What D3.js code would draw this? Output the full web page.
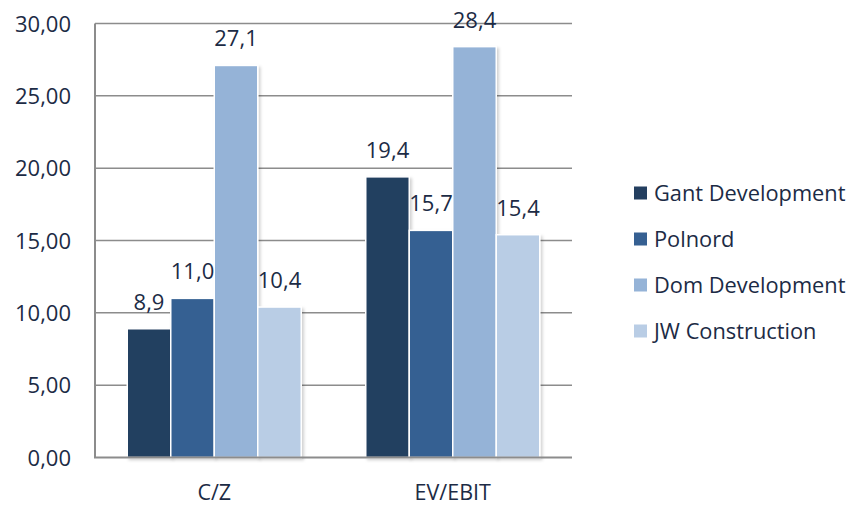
<!DOCTYPE html>
<html><head><meta charset="utf-8">
<script src="https://cdn.jsdelivr.net/npm/d3@7"></script>
<style>body{margin:0;background:#fff}svg{display:block}</style>
</head><body>
<svg id="c" width="850" height="508"></svg>
<script>
const categories = ["C/Z", "EV/EBIT"];
const seriesNames = ["Gant Development", "Polnord", "Dom Development", "JW Construction"];
const gant = [8.9, 19.4];
const polnord = [11.0, 15.7];
const dom = [27.1, 28.4];
const jw = [10.4, 15.4];
const yTicks = [0, 5, 10, 15, 20, 25, 30];
const colors = ["#243f60", "#366092", "#95b3d7", "#b9cde5"];
const seriesValues = [gant, polnord, dom, jw];

const svg = d3.select("#c");
const font = "'Open Sans', sans-serif";
const textColor = "#1c2b45";
const m = {left: 95, right: 572, top: 23.5, bottom: 457.5};

const defs = svg.append("defs");
const f = defs.append("filter").attr("id","sh").attr("x","-20%").attr("y","-20%").attr("width","150%").attr("height","150%");
f.append("feDropShadow").attr("dx",2).attr("dy",2).attr("stdDeviation",1.5).attr("flood-color","#000").attr("flood-opacity",0.18);

const y = d3.scaleLinear().domain([0, 30]).range([m.bottom, m.top]);
const x0 = d3.scaleBand().domain(categories).range([m.left, m.right]).paddingInner(0).paddingOuter(0);
const groupW = 174;
const x1 = d3.scaleBand().domain(seriesNames).range([0, groupW]).padding(0);

// gridlines
svg.append("g").selectAll("line").data(yTicks.filter(d => d > 0)).join("line")
  .attr("x1", m.left).attr("x2", m.right)
  .attr("y1", d => y(d)).attr("y2", d => y(d))
  .attr("stroke", "#8c8c8c").attr("stroke-width", 1.5);

// y tick labels
const yAxis = d3.axisLeft(y).tickValues(yTicks).tickSize(0).tickPadding(24)
  .tickFormat(d => d3.format(".2f")(d).replace(".", ","));
const ya = svg.append("g").attr("transform", `translate(${m.left},0)`).call(yAxis);
ya.select(".domain").remove();
ya.selectAll("text").attr("font-family", font).attr("font-size", 22).attr("fill", textColor).attr("dy", "0.35em");

// bars
const data = [];
categories.forEach((c, ci) => seriesNames.forEach((s, si) => data.push({c, s, si, v: seriesValues[si][ci]})));
const gx = c => x0(c) + (x0.bandwidth() - groupW) / 2;

svg.append("g").selectAll("rect").data(data).join("rect")
  .attr("x", d => gx(d.c) + x1(d.s))
  .attr("width", x1.bandwidth())
  .attr("y", d => y(d.v))
  .attr("height", d => y(0) - y(d.v))
  .attr("fill", d => colors[d.si])
  .attr("stroke", "#fff").attr("stroke-width", 1.5)
  .attr("filter", "url(#sh)");

// axes lines
svg.append("line").attr("x1", m.left).attr("x2", m.left).attr("y1", m.top).attr("y2", m.bottom)
  .attr("stroke", "#8c8c8c").attr("stroke-width", 2);
svg.append("line").attr("x1", m.left - 1).attr("x2", m.right).attr("y1", m.bottom).attr("y2", m.bottom)
  .attr("stroke", "#8c8c8c").attr("stroke-width", 2);

// value labels
svg.append("g").selectAll("text").data(data).join("text")
  .attr("x", d => gx(d.c) + x1(d.s) + x1.bandwidth() / 2)
  .attr("y", d => y(d.v) - 19)
  .attr("text-anchor", "middle")
  .attr("font-family", font).attr("font-size", 22).attr("fill", textColor)
  .text(d => d3.format(".1f")(d.v).replace(".", ","));

// x labels
const xAxis = d3.axisBottom(x0).tickSize(0).tickPadding(27);
const xa = svg.append("g").attr("transform", `translate(0,${m.bottom})`).call(xAxis);
xa.select(".domain").remove();
xa.selectAll("text").attr("font-family", font).attr("font-size", 21.5).attr("fill", textColor);

// legend
const lg = svg.append("g").selectAll("g").data(seriesNames).join("g")
  .attr("transform", (d, i) => `translate(634,${193 + i * 46})`);
lg.append("rect").attr("x", 0).attr("y", -6.5).attr("width", 13).attr("height", 13)
  .attr("fill", (d, i) => colors[i]);
lg.append("text").attr("x", 20).attr("y", 0).attr("dy", "0.35em")
  .attr("font-family", font).attr("font-size", 21.8).attr("fill", textColor).text(d => d);
</script>
</body></html>
